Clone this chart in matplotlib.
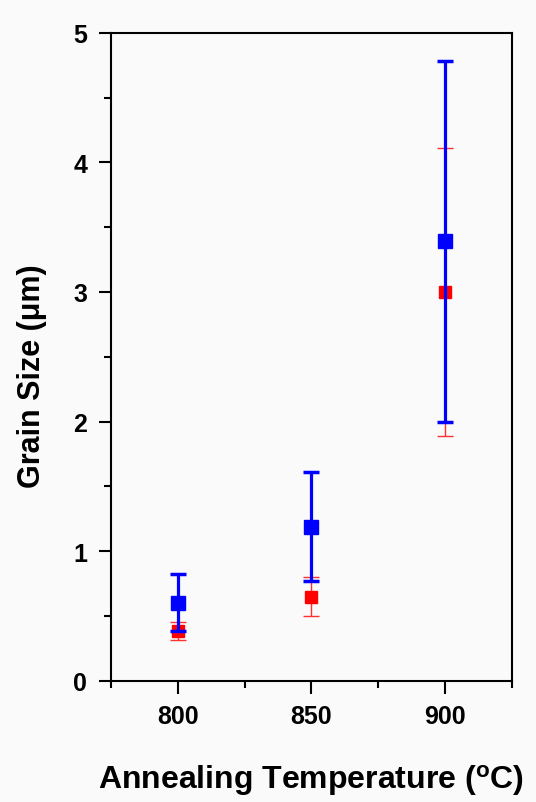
import numpy as np
import matplotlib
matplotlib.use("Agg")
import matplotlib.pyplot as plt
from matplotlib.ticker import MultipleLocator

# Données
temperature = [800, 850, 900]

taille_bleu = [0.60, 1.19, 3.39]
err_bleu = [0.22, 0.42, 1.39]

taille_rouge = [0.385, 0.65, 3.00]
err_rouge = [0.07, 0.15, 1.11]

plt.rcParams["font.family"] = ["Liberation Sans", "DejaVu Sans"]
plt.rcParams["font.weight"] = "bold"
plt.rcParams["mathtext.fontset"] = "custom"
plt.rcParams["mathtext.rm"] = "Liberation Sans:bold"
plt.rcParams["mathtext.bf"] = "Liberation Sans:bold"

fig = plt.figure(figsize=(5.36, 8.03), dpi=100, facecolor="#fafafa")
ax = fig.add_axes([0.207, 0.151, 0.748, 0.807])
ax.set_facecolor("#fafafa")

# rouge d'abord, le bleu passe par-dessus
ax.errorbar(temperature, taille_rouge, yerr=err_rouge, fmt="s", color="#ff0000",
            ecolor="#ff3030", elinewidth=1.0, capsize=5.5, capthick=1.0,
            markersize=8.5, zorder=2)
ax.errorbar(temperature, taille_bleu, yerr=err_bleu, fmt="s", color="#0000ff",
            ecolor="#0000ff", elinewidth=2.3, capsize=5.5, capthick=2.5,
            markersize=10, zorder=3)

ax.set_xlim(775, 925)
ax.set_ylim(0, 5)
ax.xaxis.set_major_locator(MultipleLocator(50))
ax.xaxis.set_minor_locator(MultipleLocator(25))
ax.yaxis.set_major_locator(MultipleLocator(1))
ax.yaxis.set_minor_locator(MultipleLocator(0.5))

ax.tick_params(which="major", direction="out", length=9, width=1.5,
               labelsize=18, pad=8)
ax.tick_params(which="minor", direction="out", length=5, width=1.5)
for s in ax.spines.values():
    s.set_linewidth(1.5)

ax.set_xlabel(r"Annealing Temperature ($\mathbf{^o}$C)", fontsize=23,
              fontweight="bold")
ax.set_ylabel("Grain Size (μm)", fontsize=22, fontweight="bold")
ax.xaxis.set_label_coords(0.5, -0.125)
ax.yaxis.set_label_coords(-0.16, 0.472)

fig.savefig("out.png", dpi=100, facecolor=fig.get_facecolor())
